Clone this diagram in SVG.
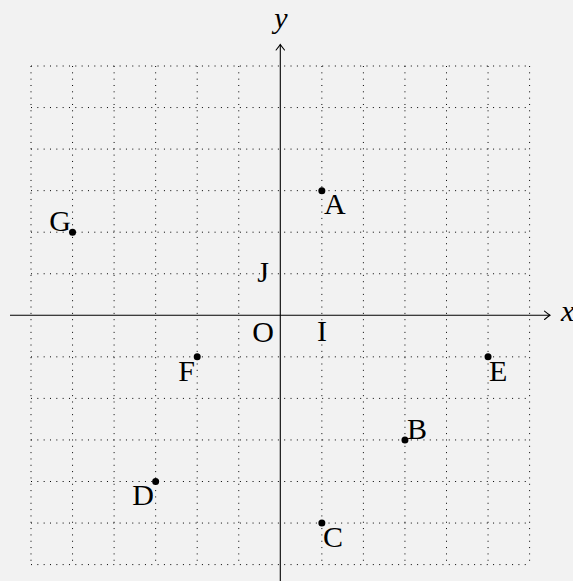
<svg xmlns="http://www.w3.org/2000/svg" width="573" height="581" viewBox="0 0 573 581">
<style>
.grid{fill:none;stroke:#000;stroke-width:1;stroke-dasharray:1 5.33}
.axis{fill:none;stroke:#000;stroke-width:1.1}
text{font-family:"Liberation Serif","Times New Roman",serif;font-size:30px;fill:#000}
.var{font-style:italic}
.pt{fill:#000}
</style>
<defs>
<marker id="arr" markerUnits="userSpaceOnUse" markerWidth="14" markerHeight="14" viewBox="-8 -7 10 14" refX="0" refY="0" orient="auto">
<path d="M -5.5 -4.2 Q -1.5 -1 0 0 Q -1.5 1 -5.5 4.2" fill="none" stroke="#000" stroke-width="1.1" stroke-linecap="round"/>
</marker>
</defs>
<rect width="573" height="581" fill="#f2f2f2"/>
<g id="grid">
<path class="grid" d="M31 66V564.6M72.55 66V564.6M114.1 66V564.6M155.65 66V564.6M197.2 66V564.6M238.75 66V564.6M321.85 66V564.6M363.4 66V564.6M404.95 66V564.6M446.5 66V564.6M488.05 66V564.6M529.6 66V564.6"/>
<path class="grid" d="M31 66H529.6M31 107.55H529.6M31 149.1H529.6M31 190.65H529.6M31 232.2H529.6M31 273.75H529.6M31 356.85H529.6M31 398.4H529.6M31 439.95H529.6M31 481.5H529.6M31 523.05H529.6M31 564.6H529.6"/>
</g>
<g id="connectors">
<path class="axis" d="M10 315.3H550" marker-end="url(#arr)"/>
<path class="axis" d="M280.3 590V44.5" marker-end="url(#arr)"/>
</g>
<g id="axis-labels">
<text class="var" x="561" y="321">x</text>
<text class="var" x="281" y="28" text-anchor="middle">y</text>
<text x="274" y="342" text-anchor="end">O</text>
<text x="322" y="341" text-anchor="middle">I</text>
<text x="269" y="282" text-anchor="end">J</text>
</g>
<g id="A"><circle class="pt" cx="321.85" cy="190.65" r="3.5"/><text x="324" y="214">A</text></g>
<g id="B"><circle class="pt" cx="404.95" cy="439.95" r="3.5"/><text x="407" y="439">B</text></g>
<g id="C"><circle class="pt" cx="321.85" cy="523.05" r="3.5"/><text x="323" y="547">C</text></g>
<g id="D"><circle class="pt" cx="155.65" cy="481.5" r="3.5"/><text x="154" y="505" text-anchor="end">D</text></g>
<g id="E"><circle class="pt" cx="488.05" cy="356.85" r="3.5"/><text x="489" y="381">E</text></g>
<g id="F"><circle class="pt" cx="197.2" cy="356.85" r="3.5"/><text x="195" y="381" text-anchor="end">F</text></g>
<g id="G"><circle class="pt" cx="72.55" cy="232.2" r="3.5"/><text x="71" y="231" text-anchor="end">G</text></g>
</svg>
